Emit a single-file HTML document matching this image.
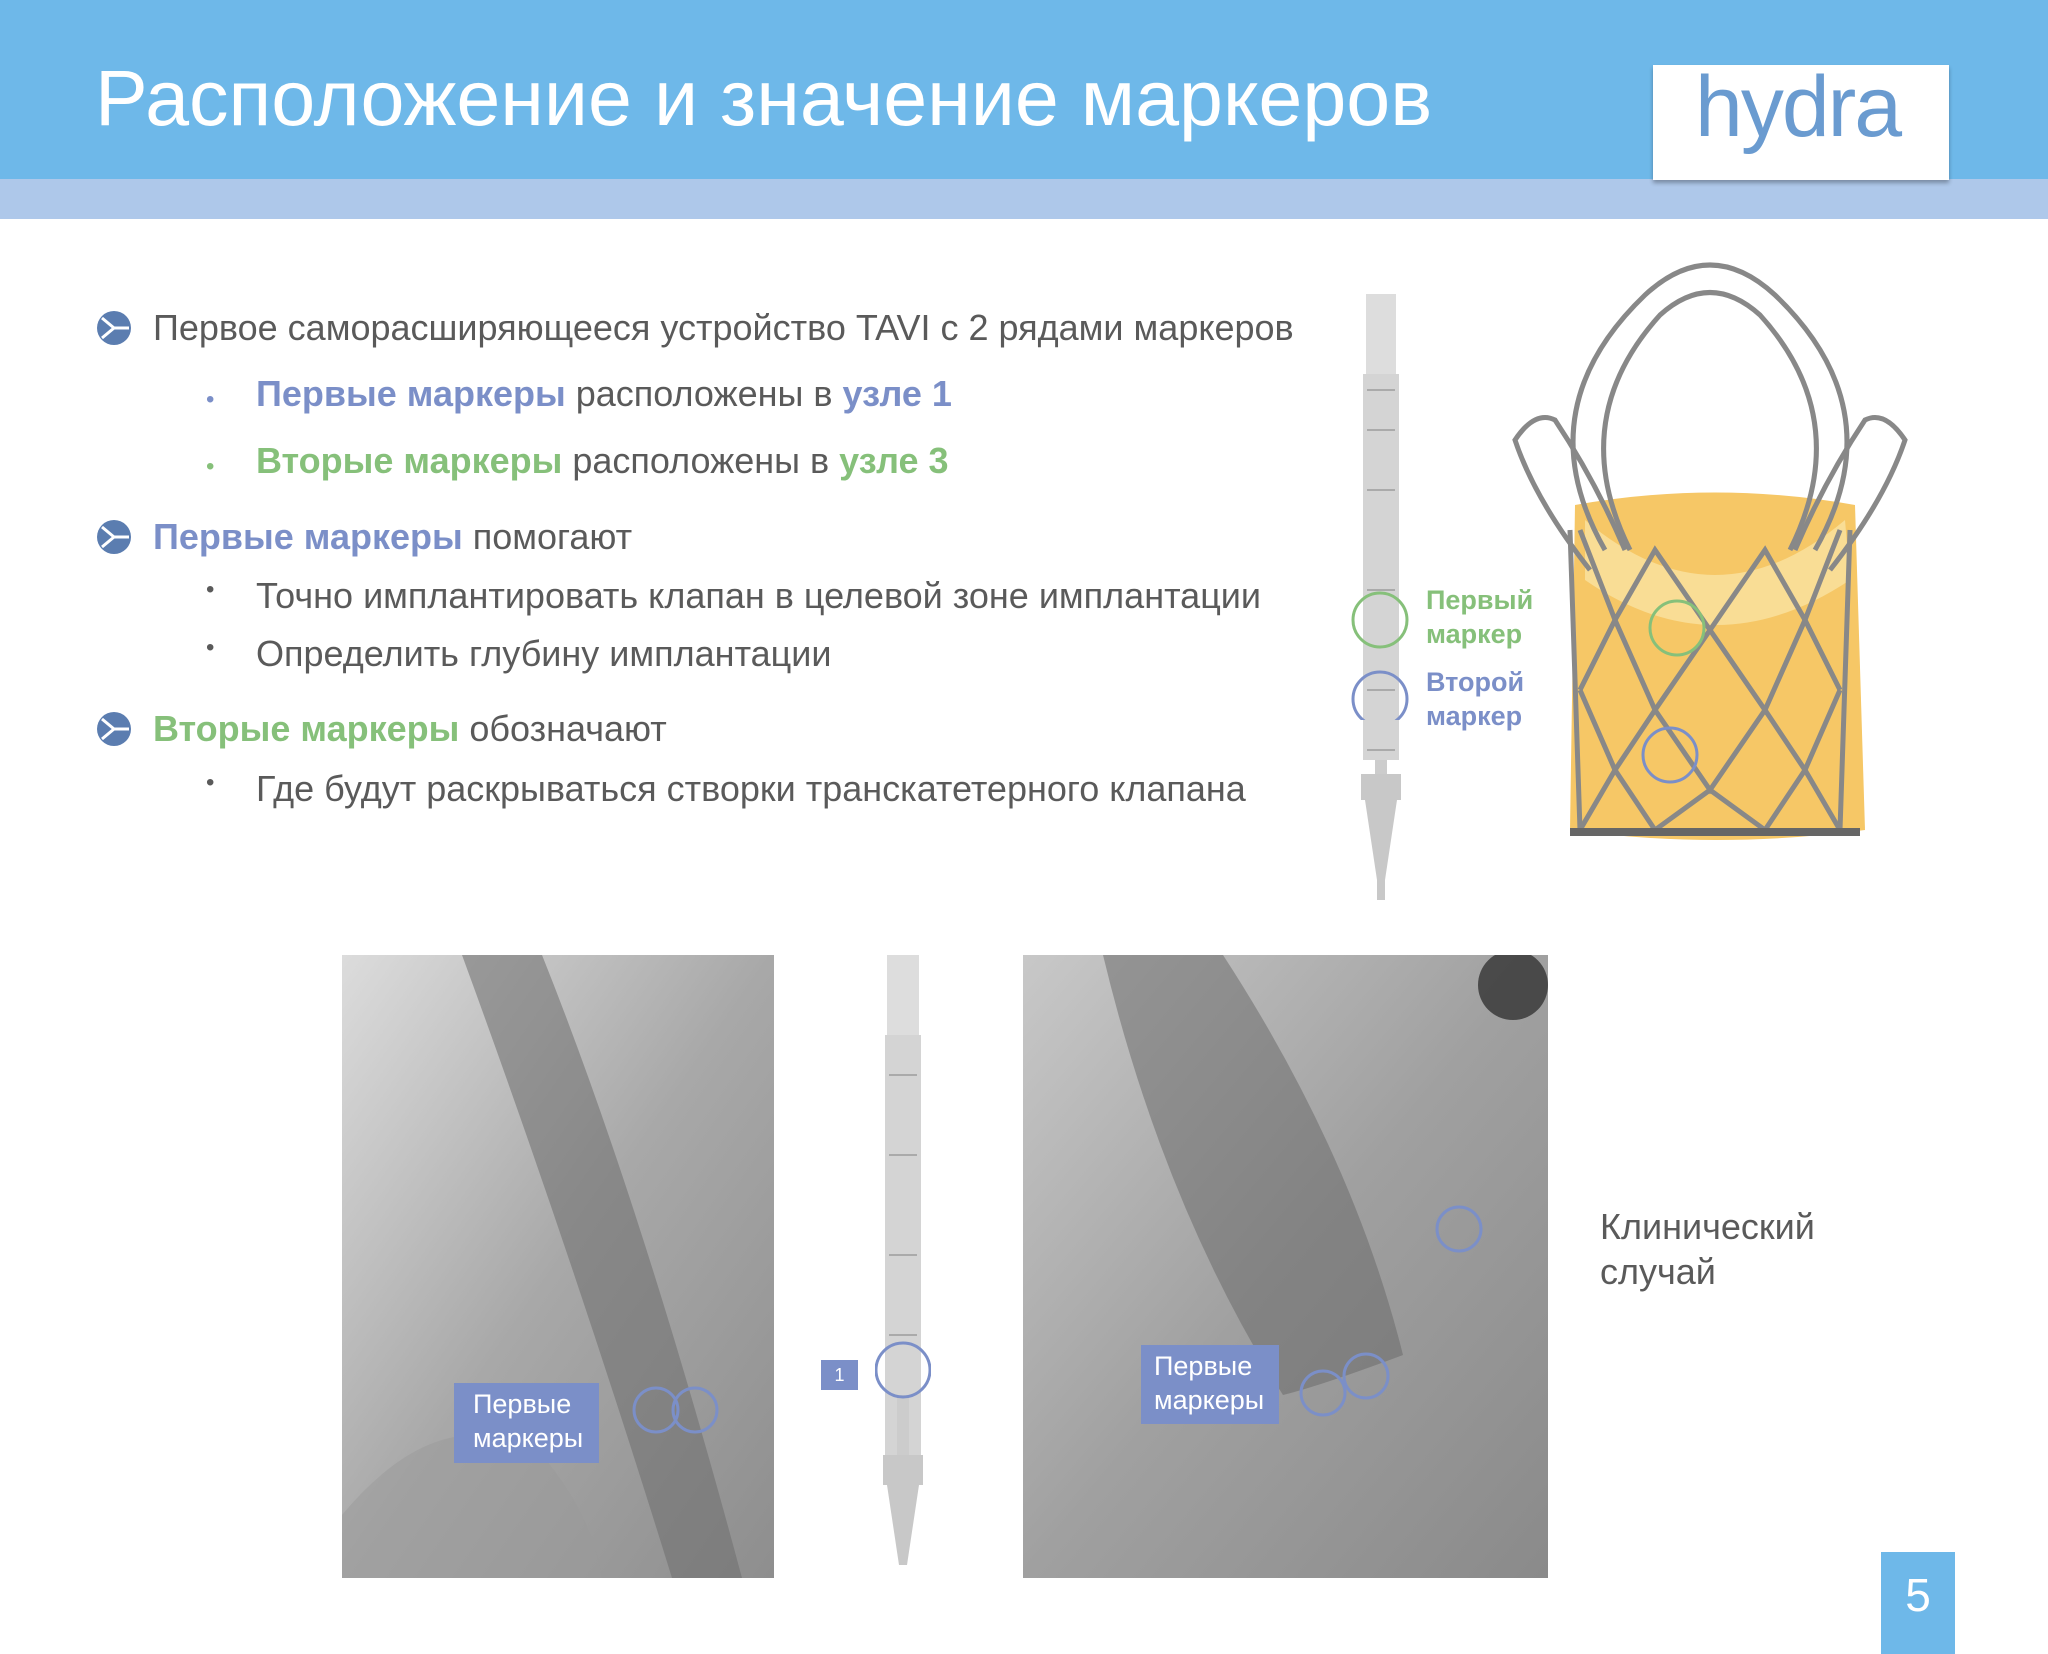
<!DOCTYPE html>
<html><head><meta charset="utf-8"><style>
*{margin:0;padding:0}
body{width:2048px;height:1654px;position:relative;background:#fff;overflow:hidden;font-family:"Liberation Sans",sans-serif;color:#555}
.a{position:absolute;white-space:nowrap}
.t{font-size:36px;color:#5a5a5a}
.b{color:#7b8fc8;font-weight:bold}
.g{color:#86c07a;font-weight:bold}
</style></head><body>
<div class="a" style="left:0;top:0;width:2048px;height:179px;background:#6eb8e9"></div>
<div class="a" style="left:0;top:179px;width:2048px;height:40px;background:#aec8ea"></div>
<div class="a" style="left:95px;top:52px;font-size:79px;color:#fff">Расположение и значение маркеров</div>
<div class="a" style="left:1653px;top:65px;width:296px;height:115px;background:#fff;box-shadow:0 3px 4px rgba(0,0,0,.3)"></div>
<div class="a" style="left:1695px;top:58px;font-size:86px;color:#6a9bd0;letter-spacing:-2px">hydra</div>

<svg class="a" style="left:96px;top:310px" width="36" height="36" viewBox="0 0 36 36"><circle cx="18" cy="18" r="17" fill="#5b7db0"/><path d="M18 18L6 8M18 18L6 28M18 18H33" stroke="#fff" stroke-width="3"/></svg>
<svg class="a" style="left:96px;top:519px" width="36" height="36" viewBox="0 0 36 36"><circle cx="18" cy="18" r="17" fill="#5b7db0"/><path d="M18 18L6 8M18 18L6 28M18 18H33" stroke="#fff" stroke-width="3"/></svg>
<svg class="a" style="left:96px;top:711px" width="36" height="36" viewBox="0 0 36 36"><circle cx="18" cy="18" r="17" fill="#5b7db0"/><path d="M18 18L6 8M18 18L6 28M18 18H33" stroke="#fff" stroke-width="3"/></svg>

<div class="a t" style="left:153px;top:307px">Первое саморасширяющееся устройство TAVI с 2 рядами маркеров</div>
<div class="a t" style="left:206px;top:374px"><span style="color:#7b8fc8;font-size:24px">•</span></div>
<div class="a t" style="left:256px;top:373px"><span class="b">Первые маркеры</span> расположены в <span class="b">узле 1</span></div>
<div class="a t" style="left:206px;top:441px"><span style="color:#86c07a;font-size:24px">•</span></div>
<div class="a t" style="left:256px;top:440px"><span class="g">Вторые маркеры</span> расположены в <span class="g">узле 3</span></div>
<div class="a t" style="left:153px;top:516px"><span class="b">Первые маркеры</span> помогают</div>
<div class="a t" style="left:206px;top:576px;font-size:24px">•</div>
<div class="a t" style="left:256px;top:575px">Точно имплантировать клапан в целевой зоне имплантации</div>
<div class="a t" style="left:206px;top:634px;font-size:24px">•</div>
<div class="a t" style="left:256px;top:633px">Определить глубину имплантации</div>
<div class="a t" style="left:153px;top:708px"><span class="g">Вторые маркеры</span> обозначают</div>
<div class="a t" style="left:206px;top:769px;font-size:24px">•</div>
<div class="a t" style="left:256px;top:768px">Где будут раскрываться створки транскатетерного клапана</div>

<!-- top catheter -->
<svg class="a" style="left:1355px;top:290px" width="52" height="612">
<rect x="11" y="4" width="30" height="80" fill="#ddd"/>
<rect x="8" y="84" width="36" height="660" fill="#d4d4d4"/>
<path d="M12 100 L40 100 M12 140 L40 140 M12 200 L40 200 M12 300 L40 300 M12 400 L40 400 M12 460 L40 460" stroke="#aaa" stroke-width="2"/>
<rect x="8" y="470" width="36" height="280" fill="#fff"/>
<rect x="20" y="470" width="12" height="50" fill="#ccc"/>
<path d="M6 484 H46 V510 H42 L30 590 V610 H22 V590 L10 510 H6Z" fill="#c8c8c8"/>
</svg>
<svg class="a" style="left:1350px;top:590px" width="60" height="130"><circle cx="30" cy="30" r="27" fill="none" stroke="#86c07a" stroke-width="3"/><circle cx="30" cy="109" r="27" fill="none" stroke="#7b8fc8" stroke-width="3"/></svg>
<div class="a" style="left:1426px;top:583px;font-size:27px;line-height:34px;font-weight:bold;color:#86c07a">Первый<br>маркер</div>
<div class="a" style="left:1426px;top:665px;font-size:27px;line-height:34px;font-weight:bold;color:#7b8fc8">Второй<br>маркер</div>

<!-- valve -->
<svg class="a" style="left:1495px;top:250px" width="430" height="605" viewBox="0 0 430 605">
<path d="M80 255 Q220 230 360 255 L370 580 Q220 600 75 580Z" fill="#f6c766"/>
<path d="M90 270 Q220 380 350 270 L355 330 Q220 420 90 330Z" fill="#f9dd95"/>
<g fill="none" stroke="#888" stroke-width="5">
<path d="M110 300 Q30 160 150 45 Q215 -15 280 45 Q400 160 320 300"/>
<path d="M135 300 Q70 170 165 65 Q215 20 265 65 Q360 170 295 300"/>
<path d="M95 320 Q40 250 20 190 Q40 160 60 170 Q100 230 130 300"/>
<path d="M335 320 Q390 250 410 190 Q390 160 370 170 Q330 230 300 300"/>
<path d="M85 280 L120 370 L160 300 L215 380 L270 300 L310 370 L345 280"/>
<path d="M85 440 L120 370 L160 460 L215 380 L270 460 L310 370 L345 440"/>
<path d="M85 440 L120 520 L160 460 L215 540 L270 460 L310 520 L345 440"/>
<path d="M85 580 L120 520 L160 580 L215 540 L270 580 L310 520 L345 580"/>
<path d="M85 580 L75 280 M345 580 L355 280"/>
</g>
<g fill="#666"><rect x="75" y="578" width="290" height="8"/></g>
<circle cx="182" cy="378" r="27" fill="none" stroke="#86c07a" stroke-width="3"/>
<circle cx="175" cy="505" r="27" fill="none" stroke="#7b8fc8" stroke-width="3"/>
</svg>

<!-- xrays -->
<svg class="a" style="left:342px;top:955px" width="432" height="623">
<defs><linearGradient id="x1" x1="0" y1="0" x2="1" y2="1"><stop offset="0" stop-color="#dcdcdc"/><stop offset=".5" stop-color="#a8a8a8"/><stop offset="1" stop-color="#8e8e8e"/></linearGradient></defs>
<rect width="432" height="623" fill="url(#x1)"/>
<path d="M120 0 L200 0 Q300 250 400 623 L330 623 Q230 300 120 0Z" fill="#6e6e6e" opacity=".55"/>
<path d="M0 560 Q100 440 200 500 Q250 560 260 623 L0 623Z" fill="#999" opacity=".5"/>
<circle cx="314" cy="455" r="22" fill="none" stroke="#7b8fc8" stroke-width="3"/>
<circle cx="353" cy="455" r="22" fill="none" stroke="#7b8fc8" stroke-width="3"/>
</svg>
<div class="a" style="left:454px;top:1383px;width:145px;height:80px;background:#7b8fc8;color:#fff;font-size:27px;line-height:34px;padding:4px 0 0 19px;box-sizing:border-box">Первые<br>маркеры</div>

<svg class="a" style="left:1023px;top:955px" width="525" height="623">
<defs><linearGradient id="x2" x1="0" y1="0" x2="1" y2="1"><stop offset="0" stop-color="#c8c8c8"/><stop offset=".5" stop-color="#a0a0a0"/><stop offset="1" stop-color="#8a8a8a"/></linearGradient></defs>
<rect width="525" height="623" fill="url(#x2)"/>
<path d="M80 0 L200 0 Q330 200 380 400 Q300 430 260 440 Q140 250 80 0Z" fill="#666" opacity=".5"/>
<circle cx="490" cy="30" r="35" fill="#333" opacity=".8"/>
<circle cx="436" cy="274" r="22" fill="none" stroke="#7b8fc8" stroke-width="3"/>
<circle cx="300" cy="438" r="22" fill="none" stroke="#7b8fc8" stroke-width="3"/>
<circle cx="343" cy="421" r="22" fill="none" stroke="#7b8fc8" stroke-width="3"/>
</svg>
<div class="a" style="left:1141px;top:1345px;width:138px;height:79px;background:#7b8fc8;color:#fff;font-size:27px;line-height:34px;padding:4px 0 0 13px;box-sizing:border-box">Первые<br>маркеры</div>

<!-- middle catheter -->
<svg class="a" style="left:875px;top:955px" width="56" height="620">
<rect x="12" y="0" width="32" height="80" fill="#ddd"/>
<rect x="10" y="80" width="36" height="420" fill="#d4d4d4"/>
<path d="M14 120 H42 M14 200 H42 M14 300 H42 M14 380 H42" stroke="#aaa" stroke-width="2"/>
<rect x="22" y="440" width="12" height="60" fill="#ccc"/>
<path d="M8 500 H48 V530 H44 L32 610 H24 L12 530 H8Z" fill="#c8c8c8"/>
<circle cx="28" cy="415" r="27" fill="none" stroke="#7b8fc8" stroke-width="3"/>
</svg>
<div class="a" style="left:821px;top:1360px;width:37px;height:30px;background:#7b8fc8;color:#fff;font-size:18px;text-align:center;line-height:30px">1</div>

<div class="a t" style="left:1600px;top:1204px;line-height:45px">Клинический<br>случай</div>
<div class="a" style="left:1881px;top:1552px;width:74px;height:102px;background:#6eb8e9;color:#fff;font-size:46px;text-align:center;line-height:86px">5</div>
</body></html>
